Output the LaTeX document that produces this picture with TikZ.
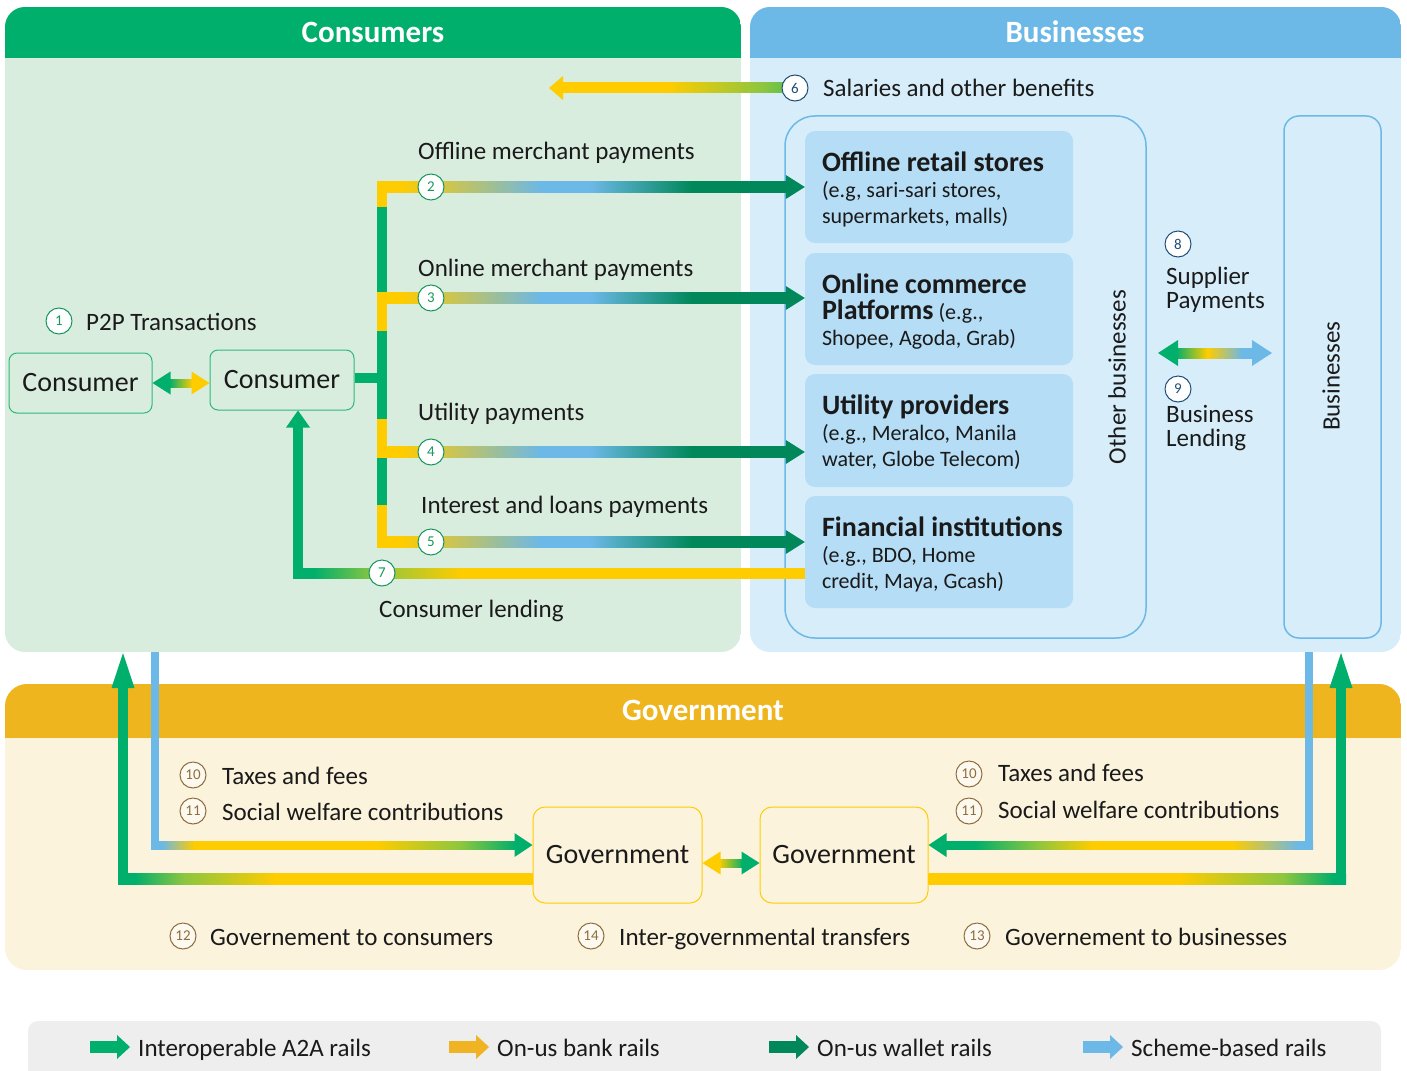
\documentclass[tikz,border=0pt]{standalone}
\usepackage{fontspec}
\setmainfont{Carlito}
\usetikzlibrary{calc,positioning}

\definecolor{railgreen}{HTML}{00AF6C}
\definecolor{railyellow}{HTML}{FFCC00}
\definecolor{bankyellow}{HTML}{F0B323}
\definecolor{wallet}{HTML}{00875A}
\definecolor{railblue}{HTML}{6CB8E6}
\definecolor{raillime}{HTML}{8DC63F}
\definecolor{consbg}{HTML}{D9EDDF}
\definecolor{bizbg}{HTML}{D7EEFA}
\definecolor{shopblue}{HTML}{B5DDF5}
\definecolor{govhead}{HTML}{EFB51E}
\definecolor{govbg}{HTML}{FCF3DD}
\definecolor{legendbg}{HTML}{EEEEEE}
\definecolor{boxgreen}{HTML}{2DB87A}
\definecolor{numgreen}{HTML}{17975F}
\definecolor{numnavy}{HTML}{1F4E79}
\definecolor{numbrown}{HTML}{8C6D3F}
\definecolor{ink}{HTML}{1A1A1A}

% colour runs along the rails (25bp..75bp is the visible part)
\pgfdeclarehorizontalshading{merchant}{100bp}{color(0bp)=(railyellow); color(28bp)=(railyellow); color(45bp)=(railblue); color(51bp)=(railblue); color(63.5bp)=(wallet); color(100bp)=(wallet)}
\pgfdeclarehorizontalshading{salary}{100bp}{color(0bp)=(railyellow); color(48bp)=(railyellow); color(68bp)=(raillime); color(75bp)=(raillime!60!railgreen); color(100bp)=(raillime!60!railgreen)}
\pgfdeclarehorizontalshading{lending}{100bp}{color(0bp)=(railgreen); color(27bp)=(railgreen); color(33bp)=(raillime); color(41.5bp)=(railyellow); color(100bp)=(railyellow)}
\pgfdeclarehorizontalshading{supplier}{100bp}{color(0bp)=(railgreen); color(25bp)=(railgreen); color(45bp)=(railyellow); color(67.5bp)=(railblue); color(100bp)=(railblue)}
\pgfdeclarehorizontalshading{taxleft}{100bp}{color(0bp)=(railblue); color(26.5bp)=(railblue); color(31bp)=(railyellow); color(56bp)=(railyellow); color(67.5bp)=(raillime); color(75bp)=(railgreen); color(100bp)=(railgreen)}
\pgfdeclarehorizontalshading{taxright}{100bp}{color(0bp)=(railgreen); color(29bp)=(railgreen); color(37.5bp)=(raillime); color(45bp)=(railyellow); color(64bp)=(railyellow); color(73bp)=(railblue); color(100bp)=(railblue)}
\pgfdeclarehorizontalshading{govcons}{100bp}{color(0bp)=(railgreen); color(27bp)=(railgreen); color(33bp)=(raillime); color(44bp)=(railyellow); color(100bp)=(railyellow)}
\pgfdeclarehorizontalshading{govbiz}{100bp}{color(0bp)=(railyellow); color(55bp)=(railyellow); color(67.5bp)=(raillime); color(73.5bp)=(railgreen); color(100bp)=(railgreen)}

\pgfdeclarelayer{panels}
\pgfdeclarelayer{rails}
\pgfsetlayers{panels,rails,main}

\newcommand\shoptitle[1]{{\fontsize{28}{28}\selectfont\bfseries #1}}

\begin{document}
\begin{tikzpicture}[x=1pt, y=-1pt, text=ink, font=\fontsize{25}{30}\selectfont]
    \tikzstyle{head}=[text=white, font=\fontsize{31}{34}\selectfont\bfseries]
    \tikzstyle{lbl}=[anchor=west, inner sep=0pt, text height=20pt, text depth=2pt]
    \tikzstyle{num}=[circle, draw, fill=white, line width=1pt, inner sep=0pt, minimum size=26pt, font=\fontsize{15}{15}\selectfont]
    \tikzstyle{consnum}=[num, draw=numgreen, text=numgreen]
    \tikzstyle{biznum}=[num, draw=numnavy, text=numnavy]
    \tikzstyle{govnum}=[num, draw=numbrown, text=numbrown, fill=white!50!govbg]
    \tikzstyle{personbox}=[draw=boxgreen, line width=1pt, rounded corners=8pt, minimum height=60pt, font=\fontsize{28}{32}\selectfont]
    \tikzstyle{govbox}=[draw=railyellow, line width=1pt, rounded corners=12pt, minimum width=169pt, minimum height=96pt, font=\fontsize{28}{32}\selectfont]
    \tikzstyle{shopbox}=[fill=shopblue, rounded corners=10pt, minimum width=268pt, minimum height=112pt]
    \tikzstyle{shoptext}=[inner sep=0pt, align=left, anchor=west, font=\fontsize{22}{26}\selectfont]
    \tikzstyle{outline}=[draw=railblue, line width=1.5pt, minimum height=522pt]

    \useasboundingbox (0,0) rectangle (1407,1070);

    % three areas and the legend strip
    \begin{pgfonlayer}{panels}
        \begin{scope}
            \clip[rounded corners=20pt] (5,7) rectangle (741,652);
            \fill[consbg] (5,7) rectangle (741,652);
            \fill[railgreen] (5,7) rectangle (741,58);
        \end{scope}
        \begin{scope}
            \clip[rounded corners=20pt] (750,7) rectangle (1401,652);
            \fill[bizbg] (750,7) rectangle (1401,652);
            \fill[railblue] (750,7) rectangle (1401,58);
        \end{scope}
        \begin{scope}
            \clip[rounded corners=22pt] (5,684) rectangle (1401,970);
            \fill[govbg] (5,684) rectangle (1401,970);
            \fill[govhead] (5,684) rectangle (1401,738);
        \end{scope}
        \fill[legendbg, rounded corners=10pt] (28,1021) rectangle (1381,1095);

        \node[outline, rounded corners=30pt, minimum width=361pt] (otherbiz) at (965.5,377) {};
        \node[outline, rounded corners=15pt, minimum width=97pt] (bizcol) at (1332.5,377) {};
    \end{pgfonlayer}

    \node[head] (conshead) at (373,32) {Consumers};
    \node[head] (bizhead) at (1075,32) {Businesses};
    \node[head] (govhead) at (703,710) {Government};

    % consumers
    \node[personbox, minimum width=143pt] (cons1) at (80.5,383) {Consumer};
    \node[personbox, minimum width=144pt] (cons2) at (282,380) {Consumer};
    \node[consnum] (c1) at (59,321) {1};
    \node[lbl] (p2p) at (86,321) {P2P Transactions};

    \coordinate (trunk) at (382,378);
    \node[consnum] (c2) at (431,187) {2};
    \node[consnum] (c3) at (431,298) {3};
    \node[consnum] (c4) at (431,452) {4};
    \node[consnum] (c5) at (431,542) {5};
    \node[consnum] (c7) at (382,573) {7};
    \node[lbl] (l2) at (418,150) {Offline merchant payments};
    \node[lbl] (l3) at (418,267) {Online merchant payments};
    \node[lbl] (l4) at (418,411) {Utility payments};
    \node[lbl] (l5) at (421,504) {Interest and loans payments};
    \node[lbl] (l7) at (379,608) {Consumer lending};

    % businesses
    \node[biznum] (c6) at (795,88) {6};
    \node[lbl] (l6) at (823,88) {Salaries and other benefits};

    \node[shopbox] (offline) at (939,187) {};
    \node[shopbox] (online) at (939,309) {};
    \node[shopbox, minimum height=113pt] (utility) at (939,430.5) {};
    \node[shopbox] (finance) at (939,552) {};
    \node[shoptext, right=17pt of offline.west, yshift=-2pt] {\shoptitle{Offline retail stores}\\(e.g, sari-sari stores,\\supermarkets, malls)};
    \node[shoptext, right=17pt of online.west, yshift=-3pt] {\shoptitle{Online commerce}\\\shoptitle{Platforms} (e.g.,\\Shopee, Agoda, Grab)};
    \node[shoptext, right=17pt of utility.west, yshift=-2pt] {\shoptitle{Utility providers}\\(e.g., Meralco, Manila\\water, Globe Telecom)};
    \node[shoptext, right=17pt of finance.west, yshift=-2pt] {\shoptitle{Financial institutions}\\(e.g., BDO, Home\\credit, Maya, Gcash)};

    \node[rotate=90] (otherlbl) at (1117,377) {Other businesses};
    \node[rotate=90] (bizlbl) at (1331,376) {Businesses};

    \node[biznum] (c8) at (1178,244) {8};
    \node[anchor=west, inner sep=0pt, align=left, font=\fontsize{25}{24}\selectfont] (l8) at (1166,290) {Supplier\\Payments};
    \node[biznum] (c9) at (1178,389) {9};
    \node[anchor=west, inner sep=0pt, align=left, font=\fontsize{25}{24}\selectfont] (l9) at (1166,428) {Business\\Lending};
    \coordinate (swap) at (1215,353);

    % government
    \node[govbox] (gov1) at (617.5,855) {Government};
    \node[govbox, minimum width=168pt] (gov2) at (844,855) {Government};
    \coordinate (gg) at (731,863);

    \node[govnum] (g10l) at (193,775) {10};
    \node[lbl] (t10l) at (222,775) {Taxes and fees};
    \node[govnum] (g11l) at (193,811) {11};
    \node[lbl] (t11l) at (222,811) {Social welfare contributions};
    \node[govnum] (g10r) at (969,774) {10};
    \node[lbl] (t10r) at (998,772) {Taxes and fees};
    \node[govnum] (g11r) at (969,811) {11};
    \node[lbl] (t11r) at (998,809) {Social welfare contributions};
    \node[govnum] (g12) at (183,936) {12};
    \node[lbl] (t12) at (210,936) {Governement to consumers};
    \node[govnum] (g14) at (591,936) {14};
    \node[lbl] (t14) at (619,936) {Inter-governmental transfers};
    \node[govnum] (g13) at (977,936) {13};
    \node[lbl] (t13) at (1005,936) {Governement to businesses};

    \begin{pgfonlayer}{rails}
        % P2P
        \shade[left color=railgreen, right color=railyellow] ($(cons1.east |- 0,383)+(17,-4)$) rectangle ($(cons2.west |- 0,383)+(-17,4)$);
        \fill[railgreen] (cons1.east |- 0,383) -- ++(18,-11.5) -- ++(0,23) -- cycle;
        \fill[railyellow] (cons2.west |- 0,383) -- ++(-18,-11.5) -- ++(0,23) -- cycle;

        % merchant payments: trunk and four branches
        \fill[railgreen] ($(cons2.east |- trunk)+(0,-5)$) rectangle ($(trunk)+(0,5)$);
        \fill[railgreen] (377,181) rectangle (387,548);
        \foreach \a/\b in {181/207, 293/331, 419/458, 505/548}
            \fill[railyellow] (377,\a) rectangle (387,\b);
        \foreach \c/\shop in {c2/offline, c3/online, c4/utility, c5/finance} {
            \shade[shading=merchant] ($(\c -| trunk)+(-5,-5.5)$) rectangle ($(\shop.west |- \c)+(-18,5.5)$);
            \fill[wallet] (\shop.west |- \c) -- ++(-19,-12) -- ++(0,24) -- cycle;
        }

        % consumer lending
        \fill[railgreen] ($(cons2.south)+(16,0)$) -- ++(-12,17) -- ++(24,0) -- cycle;
        \fill[railgreen] ($(cons2.south)+(11,16)$) rectangle ($(c7 -| cons2.south)+(21,5)$);
        \shade[shading=lending] ($(c7 -| cons2.south)+(11,-5)$) rectangle ($(finance.west |- c7)+(0,5)$);

        % salaries
        \shade[shading=salary] ($(c6)+(-234,-5)$) rectangle ($(c6)+(0,5)$);
        \fill[railyellow] ($(c6)+(-246,0)$) -- ++(14,-12) -- ++(0,24) -- cycle;

        % supplier payments / business lending
        \shade[shading=supplier] ($(swap)+(-39,-5)$) rectangle ($(swap)+(39,5)$);
        \fill[railgreen] ($(swap)+(-57,0)$) -- ++(20,-13) -- ++(0,26) -- cycle;
        \fill[railblue] ($(swap)+(57,0)$) -- ++(-20,-13) -- ++(0,26) -- cycle;

        % consumers <-> government
        \fill[railblue] (151,652) rectangle (159,849);
        \shade[shading=taxleft] (151,841) rectangle ($(gov1.west |- 0,849)+(-17,0)$);
        \fill[railgreen] (gov1.west |- 0,845) -- ++(-18,-12) -- ++(0,24) -- cycle;
        \fill[railgreen] (123,653) -- ++(-11.5,35) -- ++(23,0) -- cycle;
        \fill[railgreen] (118,687) rectangle (128,884);
        \shade[shading=govcons] (118,873) rectangle (gov1.west |- 0,884);

        % businesses <-> government
        \fill[railblue] (1305,652) rectangle (1313,849);
        \shade[shading=taxright] ($(gov2.east |- 0,841)+(17,0)$) rectangle (1313,849);
        \fill[railgreen] (gov2.east |- 0,845) -- ++(18,-12) -- ++(0,24) -- cycle;
        \fill[railgreen] (1341,653) -- ++(-11.5,35) -- ++(23,0) -- cycle;
        \fill[railgreen] (1336,687) rectangle (1346,884);
        \shade[shading=govbiz] (gov2.east |- 0,873) rectangle (1346,884);

        % inter-governmental
        \shade[left color=railyellow, right color=railgreen] ($(gov1.east |- gg)+(16,-4)$) rectangle ($(gov2.west |- gg)+(-16,4)$);
        \fill[railyellow] (gov1.east |- gg) -- ++(18,-11.5) -- ++(0,23) -- cycle;
        \fill[railgreen] (gov2.west |- gg) -- ++(-18,-11.5) -- ++(0,23) -- cycle;
    \end{pgfonlayer}

    % legend
    \foreach \x/\col/\txt in {90/railgreen/Interoperable A2A rails, 449/bankyellow/On-us bank rails, 769/wallet/On-us wallet rails, 1083/railblue/Scheme-based rails} {
        \fill[\col] (\x,1041) rectangle ++(28,12);
        \fill[\col] (\x+27,1035) -- ++(13,12) -- ++(-13,12) -- cycle;
        \node[lbl] (leg\x) at (\x+48,1047) {\txt};
    }
\end{tikzpicture}
\end{document}
